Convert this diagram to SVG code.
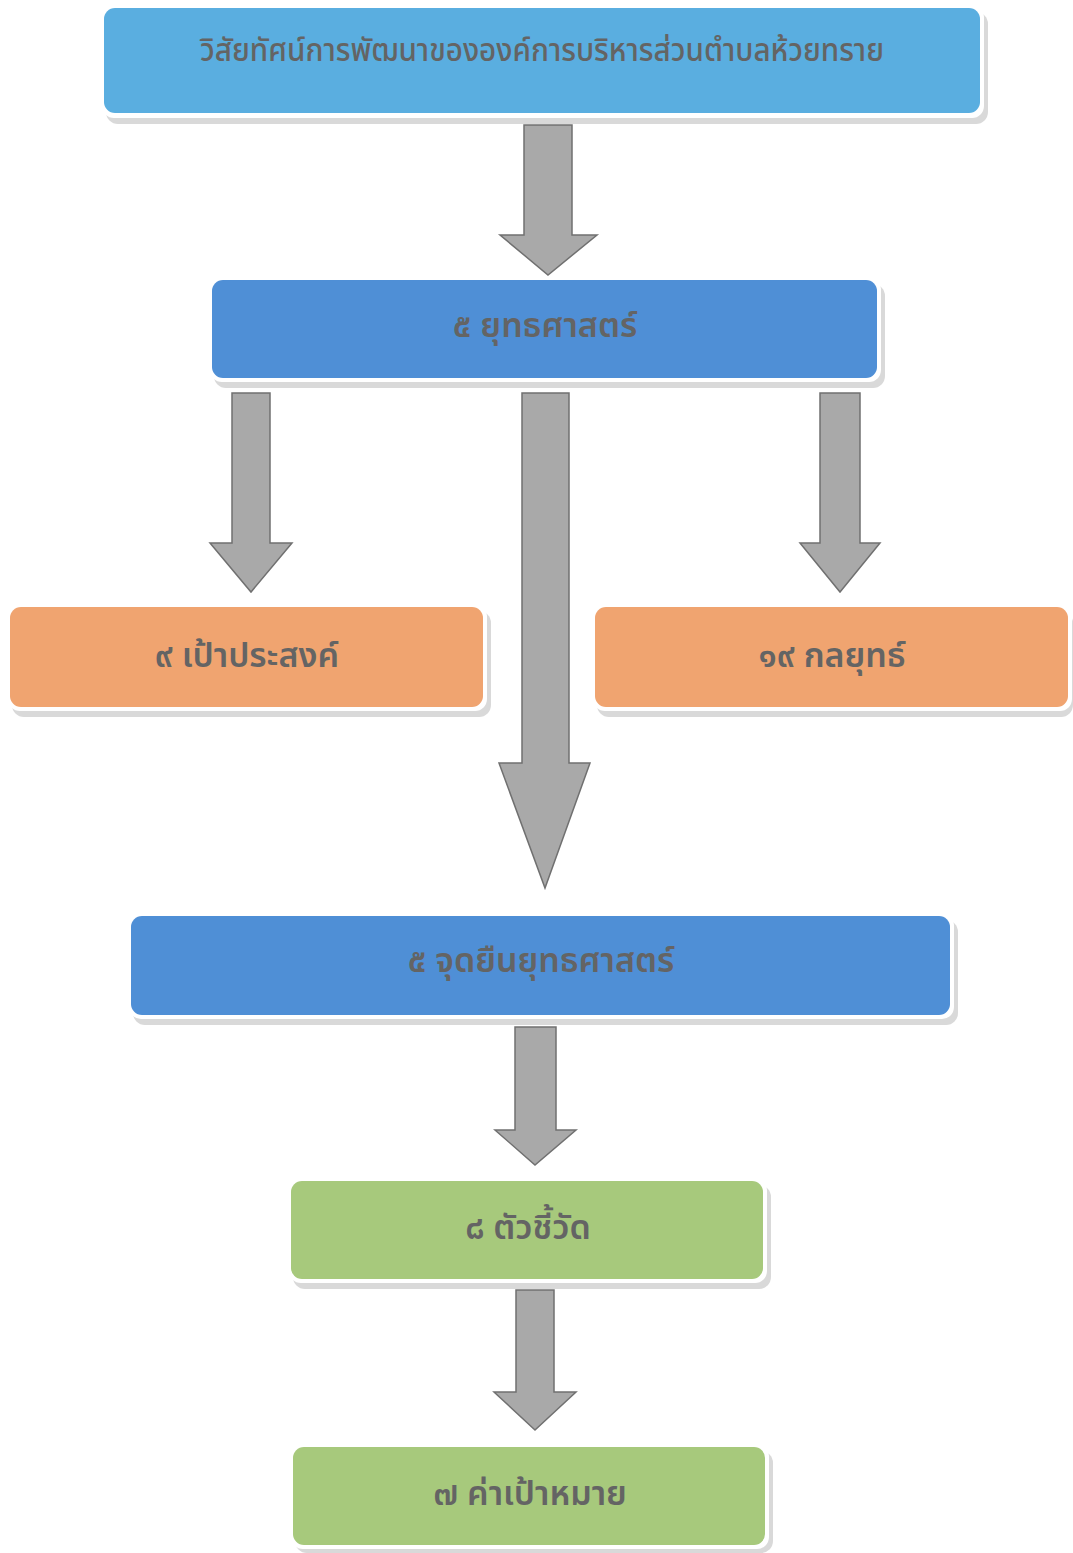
<svg xmlns="http://www.w3.org/2000/svg" width="1073" height="1553" viewBox="0 0 1073 1553">
<style>
.shadow{fill:#d9d9d9}
.edge{fill:#ffffff}
.lb{fill:#5aaee0}
.mb{fill:#4f8fd6}
.or{fill:#f0a470}
.gr{fill:#a7c97c}
.t{font-family:"Noto Sans Thai","Noto Sans","DejaVu Sans",sans-serif;font-size:34px;font-weight:600;fill:#646464;text-anchor:middle}
.arrow{fill:#a9a9a9;stroke:#707070;stroke-width:1.5}
</style>
<rect width="1073" height="1553" fill="#ffffff"/>
<g id="connectors">
<polygon class="arrow" points="524,125 572,125 572,235 597,235 548,275 500,235 524,235"/>
<polygon class="arrow" points="232,393 270,393 270,543 292,543 251,592 210,543 232,543"/>
<polygon class="arrow" points="522,393 569,393 569,763 590,763 545,888 499,763 522,763"/>
<polygon class="arrow" points="820,393 860,393 860,543 880,543 840,592 800,543 820,543"/>
<polygon class="arrow" points="515,1027 556,1027 556,1130 576,1130 535,1165 495,1130 515,1130"/>
<polygon class="arrow" points="516,1290 554,1290 554,1392 576,1392 535,1430 494,1392 516,1392"/>
</g>
<g id="vision">
<rect class="shadow" x="106" y="12" width="882" height="112" rx="12"/>
<rect class="edge" x="102" y="6" width="882" height="112" rx="12"/>
<rect class="lb" x="104" y="8" width="876" height="105" rx="11"/>
<text class="t" x="542" y="61" style="font-size:32px;font-weight:500" textLength="684" lengthAdjust="spacingAndGlyphs">วิสัยทัศน์การพัฒนาขององค์การบริหารส่วนตำบลห้วยทราย</text>
</g>
<g id="strategy">
<rect class="shadow" x="214" y="284" width="671" height="104" rx="12"/>
<rect class="edge" x="210" y="278" width="671" height="104" rx="12"/>
<rect class="mb" x="212" y="280" width="665" height="98" rx="11"/>
<text class="t" x="545" y="337">๕ ยุทธศาสตร์</text>
</g>
<g id="goals">
<rect class="shadow" x="12" y="611" width="479" height="106" rx="12"/>
<rect class="edge" x="8" y="605" width="479" height="106" rx="12"/>
<rect class="or" x="10" y="607" width="473" height="100" rx="11"/>
<text class="t" x="247" y="667">๙ เป้าประสงค์</text>
</g>
<g id="tactics">
<rect class="shadow" x="597" y="611" width="476" height="106" rx="12"/>
<rect class="edge" x="593" y="605" width="479" height="106" rx="12"/>
<rect class="or" x="595" y="607" width="473" height="100" rx="11"/>
<text class="t" x="832" y="667">๑๙ กลยุทธ์</text>
</g>
<g id="positions">
<rect class="shadow" x="133" y="920" width="825" height="105" rx="12"/>
<rect class="edge" x="129" y="914" width="825" height="105" rx="12"/>
<rect class="mb" x="131" y="916" width="819" height="99" rx="11"/>
<text class="t" x="541" y="972">๕ จุดยืนยุทธศาสตร์</text>
</g>
<g id="indicators">
<rect class="shadow" x="293" y="1185" width="478" height="104" rx="12"/>
<rect class="edge" x="289" y="1179" width="478" height="104" rx="12"/>
<rect class="gr" x="291" y="1181" width="472" height="98" rx="11"/>
<text class="t" x="528" y="1239">๘ ตัวชี้วัด</text>
</g>
<g id="targets">
<rect class="shadow" x="295" y="1451" width="478" height="102" rx="12"/>
<rect class="edge" x="291" y="1445" width="478" height="104" rx="12"/>
<rect class="gr" x="293" y="1447" width="472" height="98" rx="11"/>
<text class="t" x="530" y="1505">๗ ค่าเป้าหมาย</text>
</g>
</svg>
